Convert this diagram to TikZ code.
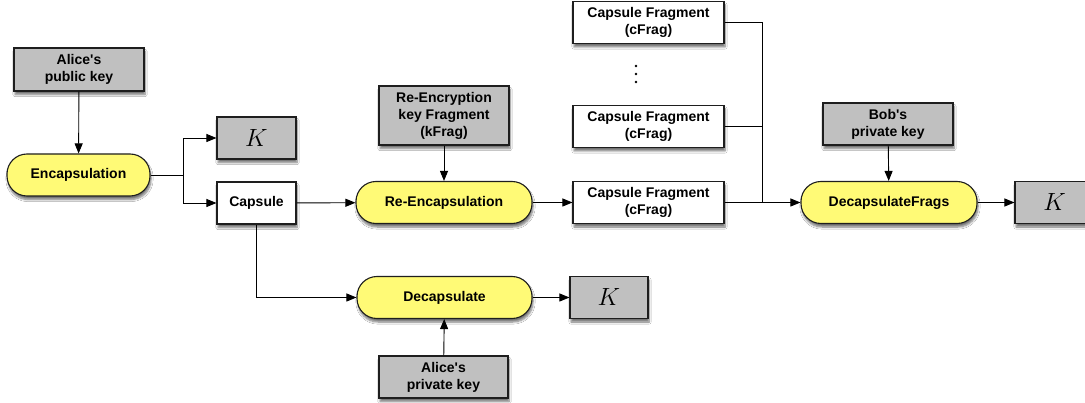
\documentclass[tikz,border=0pt]{standalone}
\usepackage{fontspec}
\setmainfont{Liberation Sans}
\usetikzlibrary{arrows.meta,shadows.blur}
\definecolor{keygray}{RGB}{192,192,192}
\definecolor{procyellow}{RGB}{255,250,118}
\definecolor{edgegray}{RGB}{30,30,30}
\tikzset{
  base/.style={draw=edgegray, line width=1.1pt, align=center, inner sep=2pt,
    font=\bfseries\fontsize{14}{17}\selectfont,
    blur shadow={shadow xshift=1pt, shadow yshift=-3.5pt, shadow blur steps=6, shadow opacity=55}},
  keybox/.style={base, fill=keygray, minimum width=130pt, minimum height=43pt},
  kbox/.style={base, fill=keygray, minimum width=79pt, minimum height=42pt, font=\fontsize{26}{30}\selectfont},
  databox/.style={base, fill=white, minimum height=42pt},
  proc/.style={base, fill=procyellow, rounded corners=20pt, minimum width=176pt, minimum height=42pt},
  conn/.style={draw=black, line width=0.9pt},
  arr/.style={conn, -{Triangle[length=10pt,width=8pt]}},
  dotmark/.style={fill=black, circle, inner sep=0pt, minimum size=2.6pt}
}
\begin{document}
\begin{tikzpicture}[x=1pt,y=-1pt]
\clip (0,0) rectangle (1085,403);
\fill[white] (0,0) rectangle (1085,403);

\node[keybox] (apk) at (79,69.5) {Alice\textquotesingle s\\public key};
\node[proc, minimum width=143pt] (enc) at (78.5,175) {Encapsulation};
\node[kbox] (k1) at (256.5,138) {$K$};
\node[databox, minimum width=79pt] (cap) at (256.5,203) {Capsule};
\node[keybox, minimum height=59pt] (kfrag) at (444,115.5) {Re-Encryption\\key Fragment\\(kFrag)};
\node[proc] (reenc) at (444,202.5) {Re-Encapsulation};
\node[databox, minimum width=151pt] (cf1) at (648.5,22.5) {Capsule Fragment\\(cFrag)};
\node[dotmark] (d1) at (636,66) {};
\node[dotmark] (d2) at (636,74) {};
\node[dotmark] (d3) at (636,82) {};
\node[databox, minimum width=151pt] (cf2) at (648.5,126.5) {Capsule Fragment\\(cFrag)};
\node[databox, minimum width=151pt] (cf3) at (648.5,202.5) {Capsule Fragment\\(cFrag)};
\node[keybox, minimum height=42pt] (bob) at (888,124) {Bob\textquotesingle s\\private key};
\node[proc] (dfr) at (889,202.5) {DecapsulateFrags};
\node[kbox] (k3) at (1054.5,202.5) {$K$};
\node[proc, minimum width=175pt] (dec) at (444.5,297.5) {Decapsulate};
\node[kbox, minimum width=78pt] (k2) at (609,297.5) {$K$};
\node[keybox, minimum width=129pt, minimum height=42pt] (apriv) at (443.5,377) {Alice\textquotesingle s\\private key};

\coordinate (split) at (183,175);
\coordinate (join) at (762,202.5);

\draw[arr] (apk) -- (enc);
\draw[conn] (enc) -- (split);
\draw[arr] (split) |- (k1);
\draw[arr] (split) |- (cap);
\draw[arr] (cap) -- (reenc);
\draw[arr] (kfrag) -- (reenc);
\draw[arr] (reenc) -- (cf3);
\draw[arr] (cap.south) |- (dec.west);
\draw[arr] (apriv) -- (dec);
\draw[arr] (dec) -- (k2);
\draw[conn] (cf1.east) -| (join);
\draw[conn] (cf2.east) -- (cf2.east -| join);
\draw[arr] (cf3) -- (dfr);
\draw[arr] (bob) -- (dfr);
\draw[arr] (dfr) -- (k3);
\end{tikzpicture}
\end{document}
